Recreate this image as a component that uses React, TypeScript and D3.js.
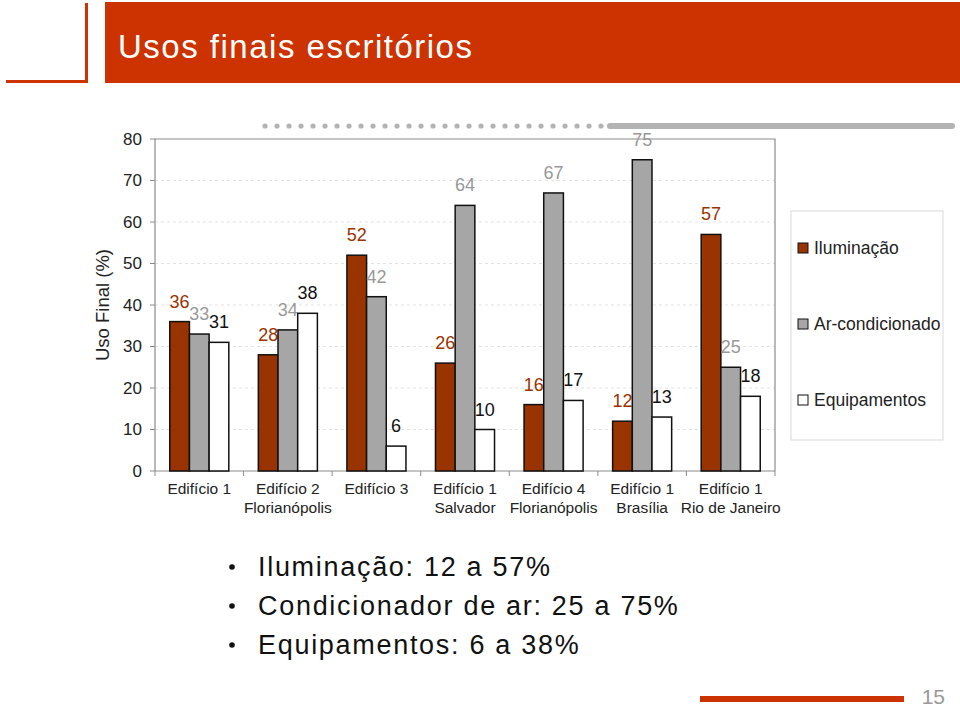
import * as d3 from 'd3';
import React from 'react';

// chart data
const categories = [
  ['Edifício 1'],
  ['Edifício 2', 'Florianópolis'],
  ['Edifício 3'],
  ['Edifício 1', 'Salvador'],
  ['Edifício 4', 'Florianópolis'],
  ['Edifício 1', 'Brasília'],
  ['Edifício 1', 'Rio de Janeiro'],
];
const seriesNames = ['Iluminação', 'Ar-condicionado', 'Equipamentos'];
const iluminacao = [36, 28, 52, 26, 16, 12, 57];
const arCondicionado = [33, 34, 42, 64, 67, 75, 25];
const equipamentos = [31, 38, 6, 10, 17, 13, 18];
const yTicks = [0, 10, 20, 30, 40, 50, 60, 70, 80];
const bullets = ['Iluminação: 12 a 57%', 'Condicionador de ar: 25 a 75%', 'Equipamentos: 6 a 38%'];

const fills = ['#993300', '#a6a6a6', '#ffffff'];
const labelColors = ['#993300', '#999999', '#111111'];
const orange = '#cc3300';
const font = '"Liberation Sans", Arial, sans-serif';

const W = 960;
const H = 707;
const plot = { left: 155, right: 775, top: 139, bottom: 471 };

const App = () => {
  const series = [iluminacao, arCondicionado, equipamentos];

  const x = d3.scaleBand<number>()
    .domain(categories.map((_, i) => i))
    .range([plot.left, plot.right]);

  // three bars fill two thirds of each category
  const xInner = d3.scaleBand<number>()
    .domain([0, 1, 2])
    .range([0, x.bandwidth()])
    .paddingOuter(0.75)
    .paddingInner(0);

  const y = d3.scaleLinear().domain([0, 80]).range([plot.bottom, plot.top]);

  const dots = d3.range(265, 604, 12);

  return (
    <div style={{ position: 'absolute', left: 0, top: 0 }}>
      <svg width={W} height={H} style={{ display: 'block', fontFamily: font }}>
        <rect width={W} height={H} fill="#fff" />

        {/* title */}
        <path d="M6,81.5 H86.5 V3" fill="none" stroke={orange} strokeWidth={3} />
        <rect x={105} y={2} width={W - 105} height={81} fill={orange} />
        <text x={118} y={58} fill="#fff" fontSize={33} letterSpacing={1.5}>Usos finais escritórios</text>

        {/* dotted rule */}
        {dots.map((d) => <circle key={d} cx={d} cy={126} r={2.6} fill="#b3b3b3" />)}
        <line x1={610} x2={952} y1={126} y2={126} stroke="#b3b3b3" strokeWidth={6} strokeLinecap="round" />

        {/* gridlines */}
        {yTicks.slice(1, -1).map((t) => (
          <line key={t} x1={plot.left} x2={plot.right} y1={y(t)} y2={y(t)}
            stroke="#e3e3e3" strokeWidth={1} strokeDasharray="3,3" />
        ))}

        {/* plot border */}
        <path d={`M${plot.left},${plot.bottom} V${plot.top} H${plot.right} V${plot.bottom}`} fill="none" stroke="#8c8c8c" strokeWidth={1.2} />
        <line x1={plot.left} x2={plot.right} y1={plot.bottom} y2={plot.bottom} stroke="#8c8c8c" strokeWidth={1.2} />

        {/* y ticks */}
        {yTicks.map((t) => (
          <g key={t}>
            <line x1={plot.left - 5} x2={plot.left} y1={y(t)} y2={y(t)} stroke="#8c8c8c" />
            <text x={142} y={y(t)} dy="0.35em" textAnchor="end" fontSize={17} fill="#222">{t}</text>
          </g>
        ))}
        <text transform={`translate(109,${(plot.top + plot.bottom) / 2}) rotate(-90)`} textAnchor="middle"
          fontSize={18.5} fill="#222">Uso Final (%)</text>

        {/* x ticks */}
        {d3.range(categories.length + 1).map((i) => {
          const xx = plot.left + i * x.bandwidth();
          return <line key={i} x1={xx} x2={xx} y1={plot.bottom} y2={plot.bottom + 5} stroke="#8c8c8c" />;
        })}
        {categories.map((c, i) => (
          <text key={i} x={(x(i) as number) + x.bandwidth() / 2} y={494} textAnchor="middle" fontSize={15.5} fill="#222">
            {c.map((line, j) => <tspan key={j} x={(x(i) as number) + x.bandwidth() / 2} dy={j === 0 ? 0 : 19}>{line}</tspan>)}
          </text>
        ))}

        {/* bars */}
        {series.map((vals, s) => (
          <g key={s}>
            {vals.map((v, i) => {
              const bx = (x(i) as number) + (xInner(s) as number);
              return (
                <g key={i}>
                  <rect x={bx} y={y(v)} width={xInner.bandwidth()} height={plot.bottom - y(v)}
                    fill={fills[s]} stroke="#111" strokeWidth={1.5} />
                  <text x={bx + xInner.bandwidth() / 2} y={y(v) - 14} textAnchor="middle"
                    fontSize={18} fill={labelColors[s]}>{v}</text>
                </g>
              );
            })}
          </g>
        ))}

        {/* legend */}
        <rect x={791} y={211} width={152} height={229} fill="#fff" stroke="#d9d9d9" />
        {seriesNames.map((n, i) => {
          const cy = 248 + i * 76;
          return (
            <g key={n}>
              <rect x={798} y={cy - 5} width={10} height={10} fill={fills[i]} stroke="#111" strokeWidth={1} />
              <text x={814} y={cy} dy="0.35em" fontSize={17.5} fill="#222">{n}</text>
            </g>
          );
        })}

        {/* bullets */}
        {bullets.map((b, i) => (
          <g key={b}>
            <circle cx={232} cy={567 + i * 39} r={2.8} fill="#111" />
            <text x={258} y={576 + i * 39} fontSize={27} letterSpacing={1.7} fill="#111">{b}</text>
          </g>
        ))}

        {/* footer */}
        <line x1={700} x2={904} y1={699} y2={699} stroke={orange} strokeWidth={6} />
        <text x={945} y={704} textAnchor="end" fontSize={21} fill="#999">15</text>
      </svg>
    </div>
  );
};

export default App;
